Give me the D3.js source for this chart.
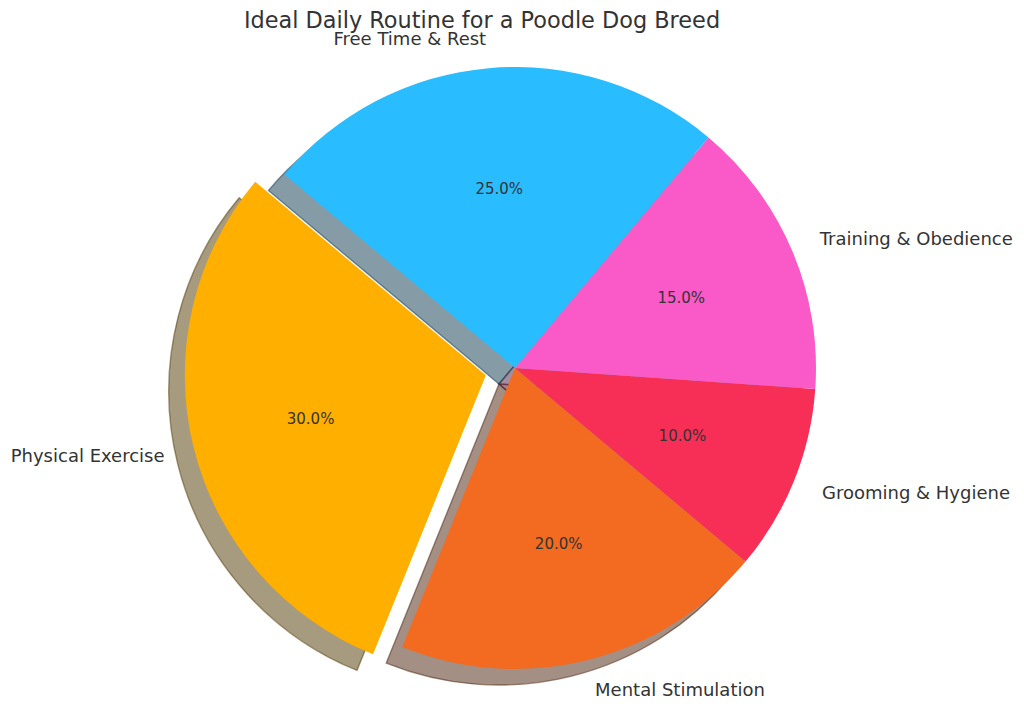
<!DOCTYPE html>
<html>
<head>
<meta charset="utf-8">
<script src="https://cdn.jsdelivr.net/npm/d3@7"></script>
<style>
  html, body { margin: 0; padding: 0; background: #fff; }
  svg { display: block; }
  text { font-family: "DejaVu Sans", sans-serif; fill: #333; }
</style>
</head>
<body>
<svg id="chart" width="1024" height="712"></svg>
<script>
const categories = ["Physical Exercise", "Mental Stimulation", "Grooming & Hygiene", "Training & Obedience", "Free Time & Rest"];
const values = [30, 20, 10, 15, 25];
const colors = ["#FFAF00", "#F26B21", "#F72F57", "#F95AC8", "#29BCFF"];
const explode = [0.1, 0, 0, 0, 0];
const title = "Ideal Daily Routine for a Poodle Dog Breed";

const W = 1024, H = 712;
const cx = 515, cy = 368, R = 301;
const startDeg = 140; // matplotlib startangle, counterclockwise
const shadowOff = 16;

const svg = d3.select("#chart");

// d3 angle: clockwise from 12 o'clock. matplotlib angle: ccw from 3 o'clock.
const a0 = Math.PI / 2 - startDeg * Math.PI / 180;
const pie = d3.pie().sort(null).value(d => d.value)
  .startAngle(a0).endAngle(a0 - 2 * Math.PI);

const data = categories.map((c, i) => ({ label: c, value: values[i], color: colors[i], explode: explode[i] }));
const arcs = pie(data);
const arc = d3.arc().innerRadius(0).outerRadius(R);
const total = d3.sum(values);

function offset(d, dist) {
  const m = (d.startAngle + d.endAngle) / 2;
  return [Math.sin(m) * dist, -Math.cos(m) * dist];
}

function shade(c) {
  const r = d3.rgb(c);
  return d3.rgb(r.r * 0.3, r.g * 0.3, r.b * 0.3).formatHex();
}

const g = svg.append("g").attr("transform", `translate(${cx},${cy})`);

// shadows
g.append("g").selectAll("path").data(arcs).join("path")
  .attr("d", arc)
  .attr("transform", d => {
    const [ex, ey] = offset(d, d.data.explode * R);
    return `translate(${ex - shadowOff},${ey + shadowOff})`;
  })
  .attr("fill", d => shade(d.data.color))
  .attr("fill-opacity", 0.5)
  .attr("stroke", d => shade(d.data.color))
  .attr("stroke-opacity", 0.5)
  .attr("stroke-width", 1.4);

// wedges
g.append("g").selectAll("path").data(arcs).join("path")
  .attr("d", arc)
  .attr("transform", d => {
    const [ex, ey] = offset(d, d.data.explode * R);
    return `translate(${ex},${ey})`;
  })
  .attr("fill", d => d.data.color);

// labels
g.append("g").selectAll("text").data(arcs).join("text")
  .attr("x", d => offset(d, (1.1 + d.data.explode) * R)[0])
  .attr("y", d => offset(d, (1.1 + d.data.explode) * R)[1])
  .attr("text-anchor", d => offset(d, 1)[0] > 0 ? "start" : "end")
  .attr("dy", "0.36em")
  .attr("font-size", 18)
  .text(d => d.data.label);

// percentages
g.append("g").selectAll("text").data(arcs).join("text")
  .attr("x", d => offset(d, (0.6 + d.data.explode) * R)[0])
  .attr("y", d => offset(d, (0.6 + d.data.explode) * R)[1])
  .attr("text-anchor", "middle")
  .attr("dy", "0.36em")
  .attr("font-size", 15)
  .text(d => (d.data.value / total * 100).toFixed(1) + "%");

svg.append("text")
  .attr("x", 482).attr("y", 28)
  .attr("text-anchor", "middle")
  .attr("font-size", 22.4)
  .text(title);
</script>
</body>
</html>
